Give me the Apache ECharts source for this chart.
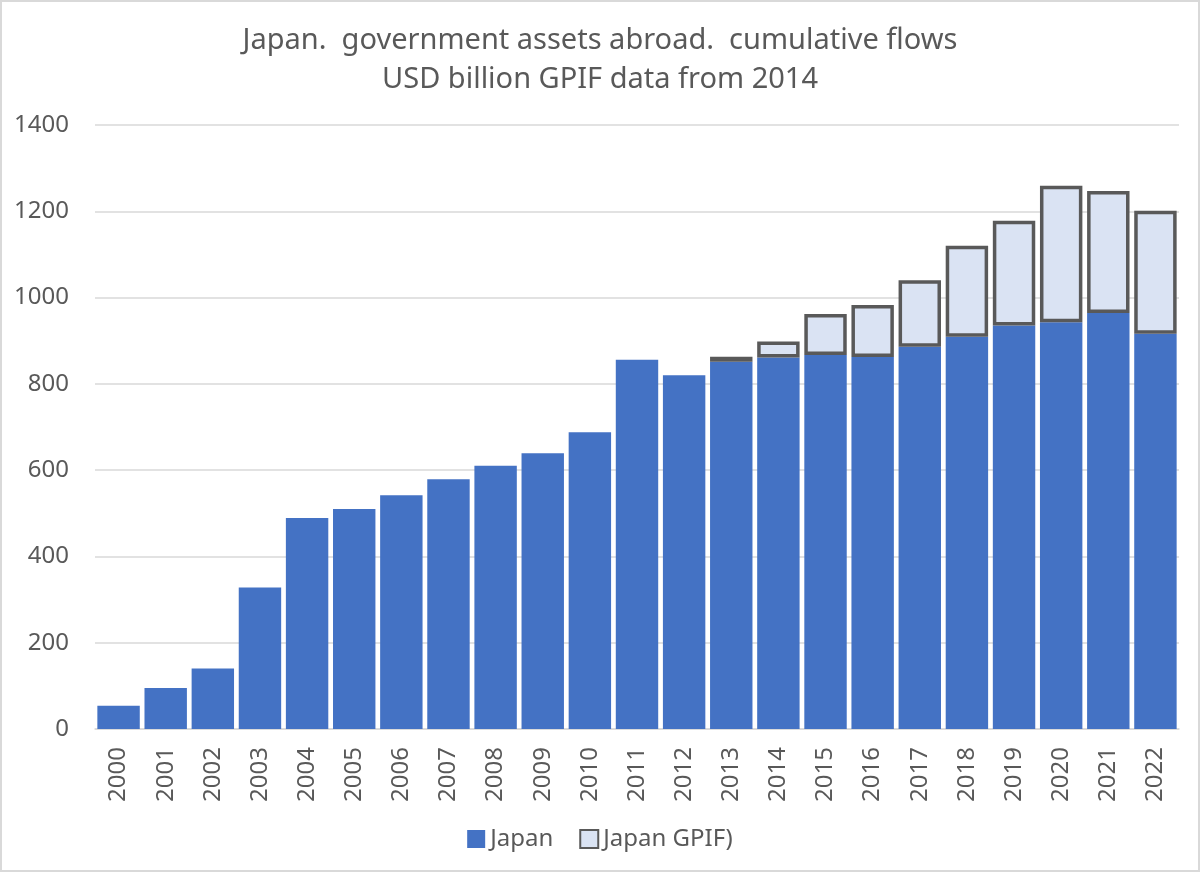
<!DOCTYPE html>
<html>
<head>
<meta charset="utf-8">
<script src="https://cdn.jsdelivr.net/npm/echarts@6/dist/echarts.min.js"></script>
<style>
  html, body { margin: 0; padding: 0; background: #fff; }
  #wrap { position: relative; width: 1200px; height: 872px; }
  #main { width: 1200px; height: 872px; }
  #frame { position: absolute; left: 0; top: 0; width: 1200px; height: 872px; box-sizing: border-box;
           border: 2px solid #d9d9d9; pointer-events: none; }
</style>
</head>
<body>
<div id="wrap">
  <div id="main"></div>
  <div id="frame"></div>
</div>
<script>
// chart data
var years = ['2000','2001','2002','2003','2004','2005','2006','2007','2008','2009','2010','2011',
             '2012','2013','2014','2015','2016','2017','2018','2019','2020','2021','2022'];
var japan = [54, 95, 140, 328, 489, 510, 542, 579, 610, 639, 688, 856,
             820, 851, 861, 867, 862, 886, 909, 935, 943, 964, 916];
var gpif = ['-','-','-','-','-','-','-','-','-','-','-','-',
            '-', 12, 37, 95, 121, 154, 211, 243, 316, 283, 285];
var yTicks = [0, 200, 400, 600, 800, 1000, 1200, 1400];

var font = 'Noto Sans';
var grey = '#595959';

var option = {
    animation: false,
    backgroundColor: '#fff',
    title: {
        text: 'Japan.  government assets abroad.  cumulative flows\nUSD billion GPIF data from 2014',
        left: 'center',
        top: 16,
        textStyle: {
            fontFamily: font,
            fontSize: 29,
            fontWeight: 'normal',
            color: grey,
            lineHeight: 39
        }
    },
    legend: {
        bottom: 16,
        left: 'center',
        itemWidth: 18,
        itemHeight: 18,
        itemGap: 26,
        textStyle: { fontFamily: font, fontSize: 24, color: grey },
        data: [
            { name: 'Japan', icon: 'rect' },
            { name: 'Japan GPIF)', icon: 'rect' }
        ]
    },
    grid: { left: 95, right: 21, top: 125, bottom: 143 },
    xAxis: {
        type: 'category',
        data: years,
        axisLine: { lineStyle: { color: '#d9d9d9', width: 1.5 } },
        axisTick: { show: false },
        axisLabel: {
            rotate: 90,
            interval: 0,
            margin: 18,
            fontFamily: font,
            fontSize: 24,
            color: grey
        }
    },
    yAxis: {
        type: 'value',
        min: yTicks[0],
        max: yTicks[yTicks.length - 1],
        interval: 200,
        axisLine: { show: false },
        axisTick: { show: false },
        splitLine: { lineStyle: { color: '#d9d9d9', width: 1.5 } },
        axisLabel: {
            margin: 26,
            fontFamily: font,
            fontSize: 24,
            color: grey,
            formatter: function (v) { return String(v); }
        }
    },
    series: [
        {
            name: 'Japan',
            type: 'bar',
            stack: 'total',
            barCategoryGap: '10%',
            data: japan,
            itemStyle: { color: '#4472c4' }
        },
        {
            name: 'Japan GPIF)',
            type: 'bar',
            stack: 'total',
            data: gpif,
            itemStyle: { color: '#dae3f3', borderColor: '#595959', borderWidth: 3.5 }
        }
    ]
};

var myChart = echarts.init(document.getElementById('main'));
myChart.setOption(option);
</script>
</body>
</html>
